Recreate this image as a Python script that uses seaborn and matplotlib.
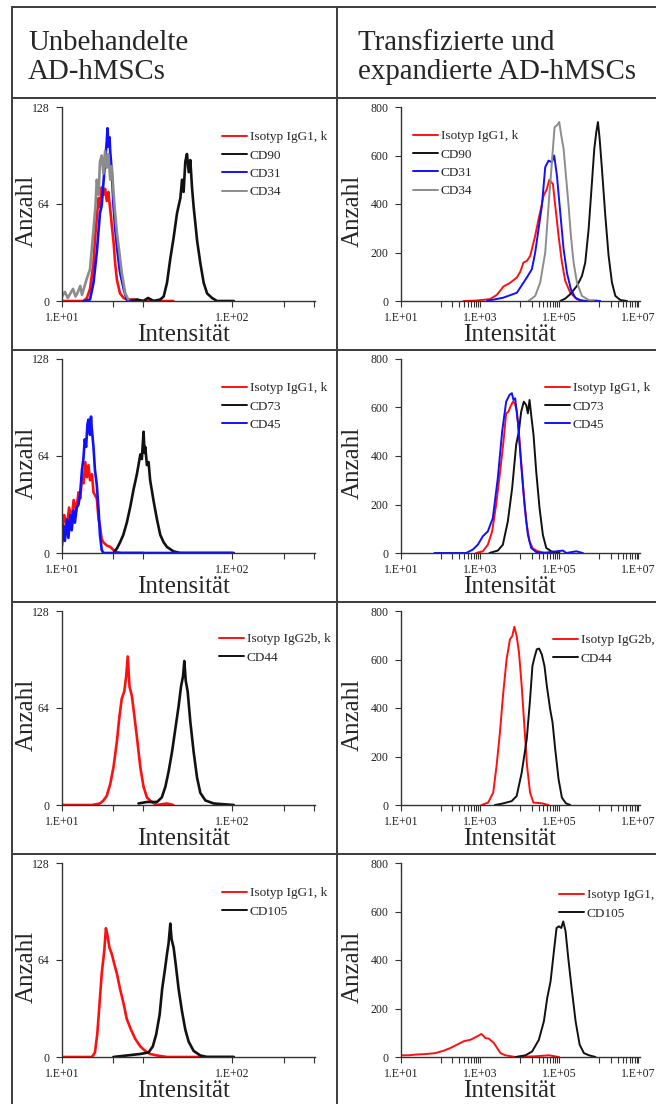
import pandas as pd
import matplotlib
matplotlib.use('Agg')
import matplotlib.pyplot as plt
import seaborn as sns
from matplotlib.lines import Line2D
from matplotlib.ticker import NullFormatter

# ---------------- data ----------------
# Untreated AD-hMSCs (left column), x = intensity, y = count
u1_iso_x = [10.0, 13.4, 14.0, 14.6, 15.3, 15.6, 16.0, 16.4, 16.7, 17.1, 17.5, 17.9, 18.3, 18.7, 19.2, 19.6, 20.1, 20.5, 21.0, 21.9, 23.0, 24.0, 26.3, 28.8, 31.5, 45.0]
u1_iso_y = [0, 0, 2, 8, 25, 40, 55, 68, 62, 75, 70, 74, 66, 72, 60, 50, 38, 25, 14, 5, 2, 1, 1, 0, 0, 0]
u1_cd90_x = [25.0, 27.5, 30.0, 32.0, 34.5, 37.7, 39.5, 41.3, 43.2, 45.2, 47.3, 49.5, 50.6, 51.7, 52.9, 54.1, 55.4, 56.6, 57.9, 59.2, 61.0, 62.0, 64.8, 67.8, 71.0, 75.9, 81.2, 101.8]
u1_cd90_y = [0, 1, 0, 2, 0, 1, 3, 12, 28, 42, 58, 68, 80, 72, 92, 97, 85, 93, 75, 62, 48, 40, 25, 12, 5, 2, 0, 0]
u1_cd31_x = [13.4, 14.6, 15.3, 16.0, 16.4, 16.7, 17.1, 17.5, 17.9, 18.3, 18.5, 18.7, 19.0, 19.2, 19.6, 20.05, 20.5, 21.0, 21.5, 21.9, 23.0, 24.0, 25.1]
u1_cd31_y = [0, 1, 12, 32, 47, 58, 63, 78, 92, 105, 114, 102, 108, 98, 85, 63, 48, 36, 26, 19, 8, 1, 0]
u1_cd34_x = [10.0, 10.4, 10.8, 11.2, 11.6, 12.0, 12.4, 12.8, 13.1, 13.5, 14.0, 14.6, 15.3, 15.7, 16.0, 16.4, 16.7, 17.1, 17.5, 17.9, 18.3, 18.7, 19.2, 19.6, 20.1, 20.5, 21.0, 21.5, 22.4, 23.5, 24.5]
u1_cd34_y = [3, 6, 2, 5, 8, 3, 6, 10, 4, 9, 15, 21, 47, 62, 80, 70, 92, 96, 84, 99, 88, 97, 80, 89, 70, 58, 45, 36, 19, 5, 1]

u2_iso_x = [10.0, 10.3, 10.7, 11.0, 11.4, 11.7, 12.1, 12.5, 12.8, 13.1, 13.4, 13.7, 14.0, 14.3, 14.6, 15.0, 15.3, 16.0, 16.4, 16.7, 17.1, 17.5, 18.3, 19.2, 20.5, 22.0, 30.0]
u2_iso_y = [12, 25, 18, 30, 22, 35, 28, 40, 36, 50, 46, 60, 50, 58, 48, 52, 40, 36, 22, 18, 9, 7, 5, 4, 1, 0, 0]
u2_cd73_x = [20.0, 21.0, 21.9, 22.9, 24.0, 25.1, 26.3, 27.5, 28.1, 28.8, 29.4, 30.1, 30.5, 30.8, 31.5, 32.2, 32.9, 34.5, 36.1, 37.7, 39.5, 41.3, 45.2, 49.5, 101.8]
u2_cd73_y = [0, 3, 7, 12, 20, 30, 42, 52, 58, 65, 62, 80, 66, 70, 58, 60, 48, 34, 22, 12, 7, 4, 1, 0, 0]
u2_cd45_x = [10.0, 10.2, 10.4, 10.7, 10.9, 11.2, 11.4, 11.7, 11.9, 12.2, 12.5, 12.8, 13.1, 13.35, 13.6, 13.85, 14.1, 14.3, 14.6, 14.8, 14.95, 15.3, 15.6, 16.0, 16.4, 16.7, 17.1, 17.5, 30.0, 100.0]
u2_cd45_y = [5, 18, 8, 22, 10, 25, 15, 28, 20, 30, 32, 40, 55, 62, 75, 70, 85, 88, 78, 90, 82, 70, 55, 45, 28, 12, 2, 0, 0, 0]

u3_iso_x = [10.0, 15.0, 16.7, 17.5, 18.3, 19.2, 20.05, 21.0, 21.7, 22.4, 23.2, 23.8, 24.3, 24.9, 25.7, 26.5, 27.5, 28.8, 30.1, 31.5, 33.6, 36.1, 41.3, 45.0]
u3_iso_y = [0, 0, 1, 3, 6, 14, 25, 42, 58, 70, 75, 85, 98, 78, 72, 60, 45, 25, 12, 5, 2, 0, 1, 0]
u3_cd44_x = [28.1, 31.5, 36.1, 38.5, 40.4, 42.2, 44.2, 46.2, 48.3, 49.9, 51.3, 52.2, 53.2, 54.6, 56.6, 59.2, 62.0, 64.8, 69.4, 77.6, 101.8]
u3_cd44_y = [1, 2, 2, 5, 12, 22, 35, 50, 65, 78, 85, 95, 82, 75, 55, 35, 18, 8, 3, 1, 0]

u4_iso_x = [10.0, 15.0, 15.6, 16.1, 16.6, 17.1, 17.7, 18.1, 18.5, 19.0, 19.6, 20.2, 21.0, 21.9, 23.0, 24.0, 25.4, 26.9, 28.8, 30.8, 32.9, 36.1, 41.3, 101.8]
u4_iso_y = [0, 0, 3, 15, 35, 55, 70, 85, 80, 72, 68, 62, 55, 45, 35, 25, 18, 12, 7, 4, 2, 1, 0, 0]
u4_cd105_x = [20.0, 24.0, 28.8, 32.2, 34.1, 35.7, 37.4, 38.7, 40.2, 41.3, 42.2, 43.2, 43.9, 45.2, 46.6, 48.3, 50.6, 52.9, 55.4, 59.2, 64.8, 71.0, 101.8]
u4_cd105_y = [0, 1, 2, 3, 7, 15, 28, 45, 58, 68, 75, 88, 78, 72, 60, 45, 30, 18, 10, 4, 1, 0, 0]

# Transfected and expanded AD-hMSCs (right column)
t1_iso_x = [378, 824, 1792, 2642, 3899, 5746, 8478, 10300, 12500, 15180, 18450, 21540, 24660, 29990, 34360, 40110, 48750, 55850, 62700, 69150, 79250, 96160, 116900, 141900, 189700, 280000, 413000]
t1_iso_y = [0, 2, 8, 25, 60, 75, 97, 120, 159, 165, 186, 230, 269, 338, 380, 434, 462, 499, 490, 483, 393, 269, 159, 83, 34, 7, 0]
t1_cd90_x = [105900, 141900, 189700, 280000, 374900, 455000, 553400, 671400, 769000, 865000, 952000, 1050000, 1200000, 1460000, 1770000, 2150000, 2620000, 3500000, 5160000]
t1_cd90_y = [0, 10, 28, 62, 103, 159, 297, 490, 628, 697, 738, 669, 545, 352, 186, 76, 21, 4, 0]
t1_cd31_x = [1476, 3899, 8478, 15180, 20320, 24660, 29990, 36410, 44260, 53700, 65170, 74650, 87300, 105900, 128800, 156300, 197200, 254000, 340300, 501200, 739600, 1090000]
t1_cd31_y = [0, 14, 34, 97, 131, 200, 297, 393, 552, 579, 572, 600, 517, 366, 214, 117, 48, 14, 3, 0, 2, 0]
t1_cd34_x = [16750, 24660, 33040, 44260, 53700, 65170, 76200, 87300, 100000, 112400, 128800, 147500, 172300, 197200, 230500, 280000, 374900, 553400, 739600]
t1_cd34_y = [0, 21, 76, 200, 393, 572, 717, 724, 738, 683, 628, 517, 393, 269, 159, 76, 21, 4, 0]

t2_iso_x = [793, 1170, 1565, 2013, 2541, 3208, 3896, 4550, 5215, 5860, 6714, 7547, 8478, 9524, 10910, 12510, 14620, 17750, 21540, 28840, 46880, 84000]
t2_iso_y = [0, 7, 34, 89, 199, 336, 460, 576, 583, 604, 624, 617, 583, 501, 377, 254, 130, 48, 18, 7, 0, 0]
t2_cd73_x = [1722, 2800, 3750, 5012, 6457, 8147, 9524, 10910, 12740, 14620, 16100, 17750, 19540, 22390, 26170, 31790, 38550, 46880, 62700, 101900]
t2_cd73_y = [0, 10, 34, 130, 268, 446, 501, 583, 624, 610, 576, 631, 569, 487, 336, 185, 75, 21, 7, 0]
t2_cd45_x = [70, 443, 652, 873, 1170, 1565, 2094, 2800, 3604, 4550, 5535, 6340, 6981, 7690, 8990, 10910, 13250, 16100, 19540, 26170, 38550, 123900, 150300, 269000, 397000]
t2_cd45_y = [0, 0, 14, 34, 69, 89, 144, 309, 501, 624, 652, 659, 631, 638, 542, 364, 199, 75, 21, 4, 0, 10, 0, 7, 0]

t3_iso_x = [1082, 1596, 2141, 2603, 3162, 3845, 4670, 5675, 6512, 7318, 8387, 9620, 11240, 13140, 15350, 18320, 22240, 36220, 53550]
t3_iso_y = [0, 10, 51, 161, 298, 463, 601, 683, 697, 735, 697, 628, 491, 326, 161, 51, 10, 7, 0]
t3_cd44_x = [2360, 3484, 6266, 8387, 11240, 15070, 18320, 20990, 23600, 27040, 31030, 36220, 42360, 48550, 59020, 67760, 79110, 96170, 116900, 147600, 190500]
t3_cd44_y = [0, 5, 16, 37, 133, 271, 436, 573, 608, 642, 645, 621, 573, 491, 394, 340, 230, 106, 30, 7, 0]

t4_iso_x = [10, 15.6, 23, 41.3, 74, 120, 177, 262, 386, 569, 839, 1081, 1365, 1656, 2218, 2692, 3272, 4378, 7852, 25180, 54700, 98200]
t4_iso_y = [7, 7, 10, 12, 16, 26, 37, 51, 65, 71, 85, 95, 78, 76, 58, 37, 16, 7, 0, 3, 7, 0]
t4_cd105_x = [7852, 14060, 20700, 30530, 40900, 49660, 60360, 73300, 85560, 98200, 112400, 126300, 144500, 169000, 205300, 259200, 327500, 421000, 563600, 831800]
t4_cd105_y = [0, 7, 23, 71, 147, 243, 312, 436, 532, 539, 532, 559, 518, 408, 285, 147, 51, 16, 7, 0]

header_left = ["Unbehandelte", "AD-hMSCs"]
header_right = ["Transfizierte und", "expandierte AD-hMSCs"]

left_yticks = [0, 64, 128]
right_yticks = [0, 200, 400, 600, 800]
left_xticks = [10, 100]
left_xlabels = ["1.E+01", "1.E+02"]
right_xticks = [1e1, 1e3, 1e5, 1e7]
right_xlabels = ["1.E+01", "1.E+03", "1.E+05", "1.E+07"]

RED, BLACK, BLUE, GRAY = '#ff1010', '#111111', '#1010ff', '#8c8c8c'

rows = [
    # (left series, right series)
    ([("Isotyp IgG1, k", u1_iso_x, u1_iso_y, RED), ("CD90", u1_cd90_x, u1_cd90_y, BLACK),
      ("CD31", u1_cd31_x, u1_cd31_y, BLUE), ("CD34", u1_cd34_x, u1_cd34_y, GRAY)],
     [("Isotyp IgG1, k", t1_iso_x, t1_iso_y, RED), ("CD90", t1_cd90_x, t1_cd90_y, BLACK),
      ("CD31", t1_cd31_x, t1_cd31_y, BLUE), ("CD34", t1_cd34_x, t1_cd34_y, GRAY)]),
    ([("Isotyp IgG1, k", u2_iso_x, u2_iso_y, RED), ("CD73", u2_cd73_x, u2_cd73_y, BLACK),
      ("CD45", u2_cd45_x, u2_cd45_y, BLUE)],
     [("Isotyp IgG1, k", t2_iso_x, t2_iso_y, RED), ("CD73", t2_cd73_x, t2_cd73_y, BLACK),
      ("CD45", t2_cd45_x, t2_cd45_y, BLUE)]),
    ([("Isotyp IgG2b, k", u3_iso_x, u3_iso_y, RED), ("CD44", u3_cd44_x, u3_cd44_y, BLACK)],
     [("Isotyp IgG2b, k", t3_iso_x, t3_iso_y, RED), ("CD44", t3_cd44_x, t3_cd44_y, BLACK)]),
    ([("Isotyp IgG1, k", u4_iso_x, u4_iso_y, RED), ("CD105", u4_cd105_x, u4_cd105_y, BLACK)],
     [("Isotyp IgG1, k", t4_iso_x, t4_iso_y, RED), ("CD105", t4_cd105_x, t4_cd105_y, BLACK)]),
]

# ---------------- layout (pixels) ----------------
W, H = 656, 1104
ROW_LINES = [98, 350, 602, 854]
LEFT_X = (62, 315)
RIGHT_X = (401, 640)
LEG_LEFT = [(222, 137), (222, 388), (219, 639), (222, 893)]
LEG_RIGHT = [(413, 136), (545, 388), (553, 640), (559, 895)]

sns.set_theme(style="ticks")
plt.rcParams['font.family'] = ['Liberation Serif', 'DejaVu Serif']

fig = plt.figure(figsize=(W / 100, H / 100), dpi=100)


def fx(px):
    return px / W


def fy(py):
    return 1 - py / H


def draw_panel(series, xr, top, bottom, right, leg_pos):
    ax = fig.add_axes([fx(xr[0]), fy(bottom), (xr[1] - xr[0]) / W, (bottom - top) / H])
    ax.set_xscale('log')
    frames = [pd.DataFrame({'Intensität': xs, 'Anzahl': ys, 'Probe': lab}) for lab, xs, ys, c in series]
    df = pd.concat(frames, ignore_index=True)
    labels = [s[0] for s in series]
    pal = {s[0]: s[3] for s in series}
    lw = 1.4 if right else 1.9
    sns.lineplot(data=df, x='Intensität', y='Anzahl', hue='Probe', hue_order=labels,
                 palette=pal, estimator=None, sort=False, linewidth=lw, ax=ax, legend=False)
    ax.set_xlabel('')
    ax.set_ylabel('')
    if right:
        ax.set_xlim(10, 1.1e7)
        ax.set_ylim(0, 800)
        ax.set_yticks(right_yticks)
        ax.set_xticks(right_xticks, labels=right_xlabels)
        minors = [m * 10 ** e for e in (2, 4, 6) for m in range(1, 10)]
    else:
        ax.set_xlim(10, 305)
        ax.set_ylim(0, 128)
        ax.set_yticks(left_yticks)
        ax.set_xticks(left_xticks, labels=left_xlabels)
        minors = [20, 30, 200, 300]
    ax.set_xticks(minors, minor=True)
    ax.xaxis.set_minor_formatter(NullFormatter())
    ax.tick_params(axis='both', which='both', direction='out', length=4, width=0.8,
                   color='#333333', labelcolor='#222222', labelsize=8.5)
    ax.tick_params(axis='x', pad=4)
    ax.tick_params(axis='y', pad=5)
    sns.despine(ax=ax)
    for sp in ('left', 'bottom'):
        ax.spines[sp].set_color('#333333')
        ax.spines[sp].set_linewidth(1.0)

    # legend sits at the same spot as in the source figure; long labels run off the page edge
    handles = [Line2D([], [], color=s[3], lw=1.4) for s in series]
    ax.legend(handles, labels, loc='upper left', bbox_to_anchor=(fx(leg_pos[0]), fy(leg_pos[1] - 6)),
              bbox_transform=fig.transFigure, frameon=False, fontsize=9.5, handlelength=1.9,
              handletextpad=0.2, labelspacing=0.46, borderpad=0, borderaxespad=0)

    cx = (xr[0] + xr[1]) / 2 + (-5 if not right else -11)
    fig.text(fx(cx), fy(bottom + 40), 'Intensität', ha='center', va='baseline', fontsize=18)
    ay = (top + bottom) / 2 + 7
    fig.text(fx(xr[0] - 35 if not right else xr[0] - 48), fy(ay), 'Anzahl', rotation=90,
             ha='center', va='center', fontsize=18)


for i, (lser, rser) in enumerate(rows):
    top = ROW_LINES[i] + 9
    bottom = ROW_LINES[i] + 203
    draw_panel(lser, LEFT_X, top, bottom, False, LEG_LEFT[i])
    draw_panel(rser, RIGHT_X, top, bottom, True, LEG_RIGHT[i])

# table frame
line_kw = dict(transform=fig.transFigure, color='#3c3c3c', lw=1.4)
fig.add_artist(Line2D([fx(12), fx(W + 5)], [fy(7), fy(7)], **line_kw))
for y in ROW_LINES:
    fig.add_artist(Line2D([fx(12), fx(W + 5)], [fy(y), fy(y)], **line_kw))
fig.add_artist(Line2D([fx(12), fx(12)], [fy(7), fy(H + 5)], **line_kw))
fig.add_artist(Line2D([fx(337), fx(337)], [fy(7), fy(H + 5)], **line_kw))

# headers
fig.text(fx(28), fy(50), header_left[0], fontsize=20.8, va='baseline')
fig.text(fx(28), fy(79), header_left[1], fontsize=20.8, va='baseline')
fig.text(fx(358), fy(50), header_right[0], fontsize=20.8, va='baseline')
fig.text(fx(358), fy(79), header_right[1], fontsize=20.8, va='baseline')

fig.savefig('out.png', dpi=100)
